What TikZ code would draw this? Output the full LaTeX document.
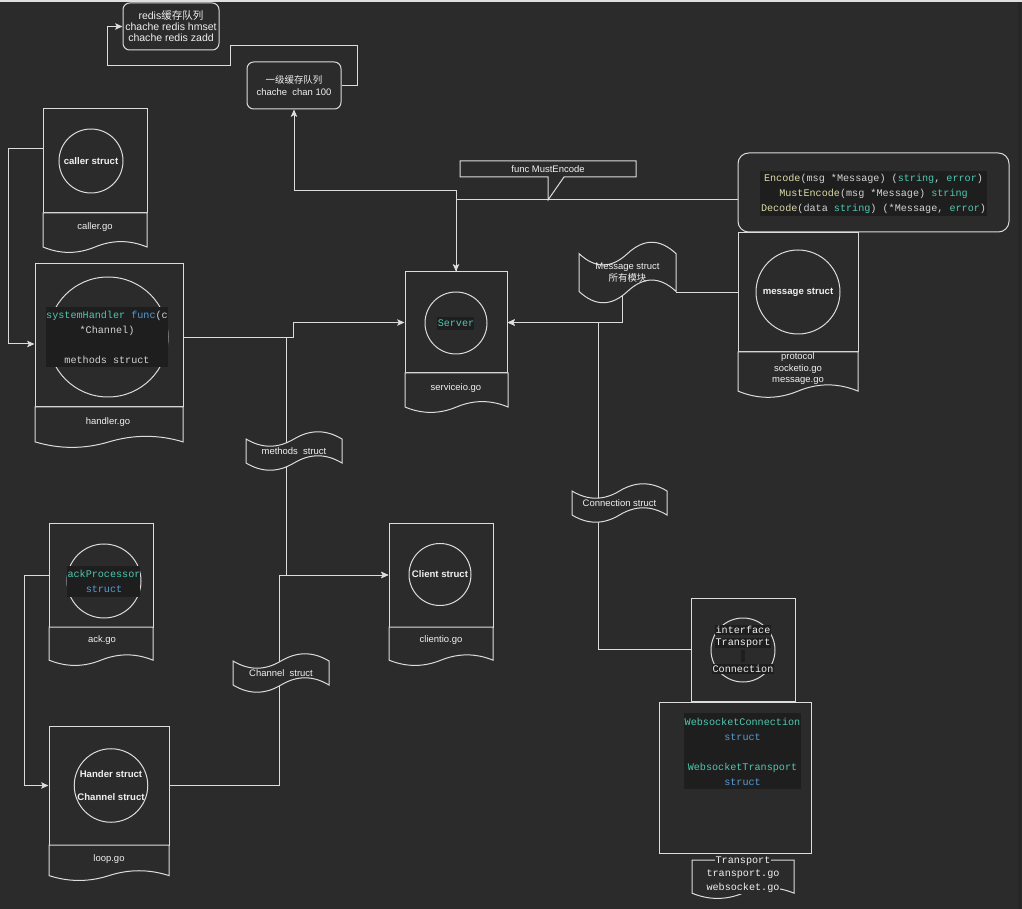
\documentclass[tikz,border=0pt]{standalone}
\usepackage{fontspec}
\setmainfont{Liberation Sans}
\newfontfamily\codefont{Liberation Mono}
\newfontfamily\cjk{Noto Sans CJK SC}
\usetikzlibrary{arrows.meta,calc}
\definecolor{bg}{HTML}{2B2B2B}
\definecolor{ln}{HTML}{DCDCDC}
\definecolor{txt}{HTML}{F0F0F0}
\definecolor{codebg}{HTML}{1E1E1E}
\definecolor{codeteal}{HTML}{4EC9B0}
\definecolor{codeblue}{HTML}{569CD6}
\definecolor{codeyellow}{HTML}{DCDCAA}
\definecolor{codeplain}{HTML}{D4D4D4}
\newcommand\mylab{\fontsize{7.1}{8.6}\selectfont}
\newcommand\mybold{\bfseries\fontsize{7.2}{8.6}\selectfont}
\newcommand\myredis{\fontsize{7.9}{8.3}\selectfont}
\newcommand\mycode{\codefont\fontsize{7.6}{11.25}\selectfont}
\newcommand\mycodeb{\codefont\fontsize{7.6}{9.75}\selectfont}
% document shape: left, top, width, height (px units, y down)
\newcommand{\docshape}[4]{%
  \draw[shapeline, fill=bg] (#1,#2) -- ({#1+#3},#2) -- ({#1+#3},{#2+0.85*#4})
   .. controls ({#1+0.8333*#3},{#2+0.67*#4}) and ({#1+0.6667*#3},{#2+0.67*#4}) .. ({#1+0.5*#3},{#2+0.85*#4})
   .. controls ({#1+0.3333*#3},{#2+1.03*#4}) and ({#1+0.1667*#3},{#2+1.03*#4}) .. (#1,{#2+0.85*#4}) -- cycle;}
% tape shape: left, top, width, height
\newcommand{\tapeshape}[4]{%
  \draw[shapeline, fill=bg] (#1,{#2+0.2*#4})
   .. controls ({#1+0.1667*#3},{#2+0.44*#4}) and ({#1+0.3333*#3},{#2+0.44*#4}) .. ({#1+0.5*#3},{#2+0.2*#4})
   .. controls ({#1+0.6667*#3},{#2-0.04*#4}) and ({#1+0.8333*#3},{#2-0.04*#4}) .. ({#1+#3},{#2+0.2*#4})
   -- ({#1+#3},{#2+0.8*#4})
   .. controls ({#1+0.8333*#3},{#2+0.56*#4}) and ({#1+0.6667*#3},{#2+0.56*#4}) .. ({#1+0.5*#3},{#2+0.8*#4})
   .. controls ({#1+0.3333*#3},{#2+1.04*#4}) and ({#1+0.1667*#3},{#2+1.04*#4}) .. (#1,{#2+0.8*#4}) -- cycle;}
\begin{document}
\begin{tikzpicture}[x=0.75pt,y=-0.75pt,
  shapeline/.style={draw=ln, line width=0.75pt},
  box/.style={shapeline, rectangle, inner sep=0pt},
  rbox/.style={shapeline, rectangle, rounded corners=5pt, inner sep=0pt, text=txt, align=center},
  circ/.style={shapeline, circle, inner sep=0pt, text=txt, align=center},
  lbl/.style={text=txt, align=center, inner sep=0pt, font=\mylab},
  codetxt/.style={text=codeplain, align=center, inner sep=0pt, font=\mycode},
  conn/.style={draw=ln, line width=0.75pt},
  arr/.style={conn, -{Stealth[length=5.5pt,width=4.8pt,inset=1.2pt]}}]
\useasboundingbox (0,0) rectangle (1022,909);
\fill[bg] (0,0) rectangle (1022,909);
\fill[ln!90!white] (0,0) rectangle (1022,2.5);
\fill[black!85] (1017.5,2.5) rectangle (1021,909);

% rounded boxes
\node[rbox, minimum width=72pt, minimum height=35.25pt, font=\myredis] (redis) at (171,26.5)
  {redis{\cjk 缓存队列}\\chache redis hmset\\chache redis zadd};
\node[rbox, minimum width=70.5pt, minimum height=35.25pt, font=\mylab] (yiji) at (294,85.5)
  {{\cjk 一级缓存队列}\\chache\ \ chan 100};
\node[rbox, rounded corners=8pt, minimum width=203.25pt, minimum height=59.25pt] (encbox) at (873.5,192.5) {};
\fill[codebg] (760,171) rectangle (987,216);
\node[codetxt] (enctext) at (873.5,193.5)
  {{\color{codeyellow}Encode}(msg *Message) ({\color{codeteal}string}, {\color{codeteal}error})\\
   {\color{codeyellow}MustEncode}(msg *Message) {\color{codeteal}string}\\
   {\color{codeyellow}Decode}(data {\color{codeteal}string}) (*Message, {\color{codeteal}error})};

% main boxes
\node[box, minimum width=78pt, minimum height=78pt] (callerbox) at (95,161) {};
\node[circ, minimum size=48pt, font=\mybold] (callerc) at (91,161) {caller struct};
\docshape{43}{213}{104}{40}
\node[lbl] (callerfile) at (95,227) {caller.go};

\node[box, minimum width=111pt, minimum height=107.25pt] (handlerbox) at (109,335.5) {};
\node[circ, minimum size=90pt] (handlerc) at (108,337) {};
\fill[codebg] (46,307) rectangle (168,367);
\node[codetxt] (handlertext) at (107,337)
  {{\color{codeteal}systemHandler} {\color{codeblue}func}(c\\*Channel)\\[11.25pt]methods struct};
\docshape{35}{407}{148}{41}
\node[lbl] (handlerfile) at (108,422) {handler.go};

\node[box, minimum width=76.5pt, minimum height=75.75pt] (serverbox) at (456,322.5) {};
\node[circ, minimum size=46.5pt] (serverc) at (456,323) {};
\fill[codebg] (437,317) rectangle (474,330);
\node[codetxt, text=codeteal] (servertext) at (456,323.5) {Server};
\docshape{405}{373}{103}{40}
\node[lbl] (serverfile) at (456,388) {serviceio.go};

\node[box, minimum width=90pt, minimum height=89.25pt] (msgbox) at (798,292.5) {};
\node[circ, minimum size=63pt, font=\mybold] (msgc) at (798,292) {message struct};
\docshape{738}{352}{120}{46}
\node[lbl] (msgfile) at (798,369) {protocol\\socketio.go\\message.go};

\node[box, minimum width=78pt, minimum height=78pt] (ackbox) at (101,575) {};
\node[circ, minimum size=55.5pt] (ackc) at (104,581) {};
\fill[codebg] (67,566) rectangle (140,597);
\node[codetxt] (acktext) at (104,581.5)
  {{\color{codeteal}ackProcessor}\\{\color{codeblue}struct}};
\docshape{49}{627}{104}{39}
\node[lbl] (ackfile) at (102,640) {ack.go};

\node[box, minimum width=90pt, minimum height=89.25pt] (loopbox) at (109,785.5) {};
\node[circ, minimum size=54pt, font=\mybold] (loopc) at (111,785.5) {Hander struct\\[8.6pt]Channel struct};
\docshape{49}{845}{120}{36}
\node[lbl] (loopfile) at (109,859) {loop.go};

\node[box, minimum width=78pt, minimum height=78pt] (clientbox) at (441,575) {};
\node[circ, minimum size=46.5pt, font=\mybold] (clientc) at (440,574.5) {Client struct};
\docshape{389}{627}{104}{39}
\node[lbl] (clientfile) at (441,640) {clientio.go};

\node[box, minimum width=78pt, minimum height=77.25pt] (ifacebox) at (743,649.5) {};
\node[circ, minimum size=48pt] (ifacec) at (743,650) {};
\node[codetxt, font=\mycodeb, text=txt, fill=codebg, inner sep=0.6pt] (iface1) at (743,630) {interface};
\node[codetxt, font=\mycodeb, text=txt, fill=codebg, inner sep=0.6pt] (iface2) at (743,643) {Transport};
\fill[codebg] (741,650) rectangle (745,662);
\node[codetxt, font=\mycodeb, text=txt, fill=codebg, inner sep=0.6pt] (iface3) at (743,669) {Connection};

\node[box, minimum width=114pt, minimum height=113.25pt] (wsbox) at (735,777.5) {};
\fill[codebg] (684,713) rectangle (801,789);
\node[codetxt] (wstext) at (742.5,752)
  {{\color{codeteal}WebsocketConnection}\\{\color{codeblue}struct}\\[11.25pt]{\color{codeteal}WebsocketTransport}\\{\color{codeblue}struct}};
\docshape{692}{860}{102}{39}
\node[codetxt, font=\mycodeb, text=txt, fill=bg, inner sep=0.6pt] (trans1) at (743,861) {Transport};
\node[codetxt, font=\mycodeb, text=txt, fill=bg, inner sep=0.6pt] (trans2) at (743,874.5) {transport.go};
\node[codetxt, font=\mycodeb, text=txt, fill=bg, inner sep=0.6pt] (trans3) at (743,888) {websocket.go};

% tape anchor points
\coordinate (msgtapeR) at (676,292.5);
\coordinate (msgtapeB) at (622,296);

% connectors
\draw[arr] (yiji.east) -- (357,85.5) -- (357,46) -- (230,46) -- (230,66) -- (107,66) -- (107,26.5) -- (redis.west);
\draw[arr] (serverbox.north) -- (456,191) -- (294,191) -- (yiji.south);
\draw[arr] ($(encbox.west)+(0,7.5)$) -- (456,200) -- (serverbox.north);
\draw[arr] ($(callerbox.west)+(0,-12)$) -- (8,149) -- (8,344) -- ($(handlerbox.west)+(0,8.5)$);
\draw[arr] ($(handlerbox.east)+(0,2.5)$) -- (293,338) -- (293,322.5) -- (serverbox.west);
\draw[arr] ($(handlerbox.east)+(0,2.5)$) -- (286,338) -- (286,575) -- (clientbox.west);
\draw[arr] (loopbox.east) -- (279,785.5) -- (279,575) -- (clientbox.west);
\draw[arr] (ackbox.west) -- (24,575) -- (24,785.5) -- (loopbox.west);
\draw[conn] (msgbox.west) -- (msgtapeR);
\draw[arr] (msgtapeB) -- (622,322.5) -- (serverbox.east);
\draw[arr] (ifacebox.west) -- (598,649.5) -- (598,322.5) -- (serverbox.east);

% callout
\draw[shapeline] (460,161) -- (636,161) -- (636,177) -- (564,177) -- (548,200) -- (548,177) -- (460,177) -- cycle;
\node[lbl] (mustenc) at (548,169) {func MustEncode};

% tapes
\tapeshape{579}{241}{97}{63}
\node[lbl] (msgtape) at (627.5,272.5) {Message struct\\{\cjk 所有模块}};
\tapeshape{246}{431}{96}{40}
\node[lbl] (methodstape) at (294,451) {methods\ \ struct};
\tapeshape{233}{653}{96}{40}
\node[lbl] (channeltape) at (281,673) {Channel\ \ struct};
\tapeshape{572}{483}{95}{40}
\node[lbl] (conntape) at (619.5,503) {Connection struct};
\end{tikzpicture}
\end{document}
